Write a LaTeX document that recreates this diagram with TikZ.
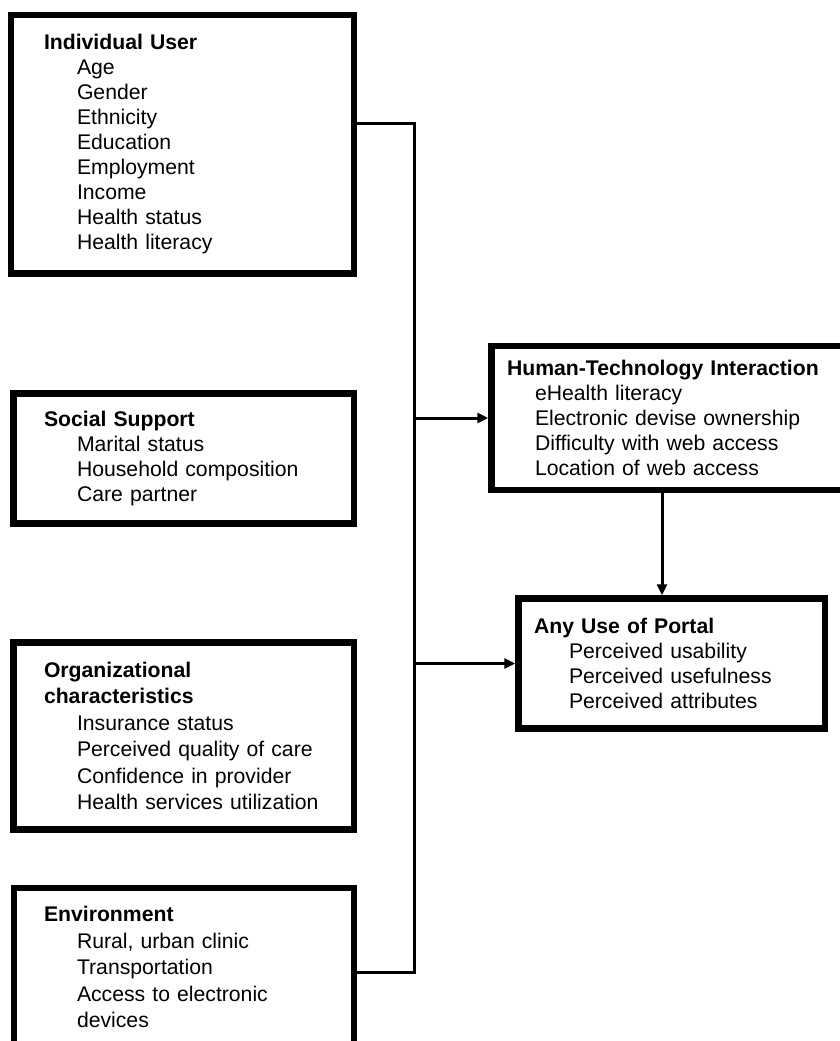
\documentclass[tikz,border=0pt]{standalone}
\usepackage{fontspec}
\setmainfont{Liberation Sans}
\usetikzlibrary{arrows.meta}
\newcommand{\indt}[1]{\hspace*{#1}}

\begin{document}
\begin{tikzpicture}[x=1pt,y=-1pt,
    factor/.style={draw,line width=6.5pt,align=left,inner ysep=0pt,
        font=\fontsize{21.2}{25}\selectfont},
    wide/.style={font=\fontsize{21.2}{26.5}\selectfont},
    link/.style={line width=3pt},
    arr/.style={link,-{Triangle[length=11pt,width=10pt]}}]
\useasboundingbox (0,0) rectangle (839,1041);

% left column of factors
\node[factor,minimum width=343pt,minimum height=258.5pt,inner xsep=33pt,text width=277pt]
    (user) at (182.5,144.25) {\textbf{Individual User}\\
    \indt{33pt}Age\\ \indt{33pt}Gender\\ \indt{33pt}Ethnicity\\ \indt{33pt}Education\\
    \indt{33pt}Employment\\ \indt{33pt}Income\\ \indt{33pt}Health status\\
    \indt{33pt}Health literacy};
\node[factor,minimum width=340.5pt,minimum height=130pt,inner xsep=30.5pt,text width=279.5pt]
    (social) at (183.75,458.5) {\textbf{Social Support}\\
    \indt{33pt}Marital status\\ \indt{33pt}Household composition\\
    \indt{33pt}Care partner};
\node[factor,wide,minimum width=340.5pt,minimum height=187pt,inner xsep=30.5pt,text width=279.5pt]
    (org) at (183.75,736) {\textbf{Organizational}\\ \textbf{characteristics}\\
    \indt{33pt}Insurance status\\ \indt{33pt}Perceived quality of care\\
    \indt{33pt}Confidence in provider\\ \indt{33pt}Health services utilization};
\node[factor,wide,minimum width=340pt,minimum height=158pt,inner xsep=30pt,text width=280pt]
    (env) at (184,967) {\textbf{Environment}\\
    \indt{33pt}Rural, urban clinic\\ \indt{33pt}Transportation\\
    \indt{33pt}Access to electronic\\ \indt{33pt}devices};

% right column
\node[factor,minimum width=358.5pt,minimum height=144pt,inner xsep=15.5pt,text width=327.5pt]
    (hti) at (670.75,418) {\textbf{Human-Technology Interaction}\\
    \indt{28pt}eHealth literacy\\ \indt{28pt}Electronic devise ownership\\
    \indt{28pt}Difficulty with web access\\ \indt{28pt}Location of web access};
\node[factor,minimum width=306.5pt,minimum height=130pt,inner xsep=15.5pt,text width=275.5pt]
    (portal) at (671.75,663.5) {\textbf{Any Use of Portal}\\
    \indt{35pt}Perceived usability\\ \indt{35pt}Perceived usefulness\\
    \indt{35pt}Perceived attributes};

% connectors
\coordinate (bus) at (414.5,123);
\coordinate (busend) at (414.5,972);
\coordinate (drop) at (662,0);
\draw[link] (user.east |- bus) -- (bus) -- (busend) -- (env.east |- busend);
\draw[arr] (hti.west -| bus) -- (hti.west);
\draw[arr] (portal.west -| bus) -- (portal.west);
\draw[arr] (hti.south -| drop) -- (portal.north -| drop);
\end{tikzpicture}
\end{document}
